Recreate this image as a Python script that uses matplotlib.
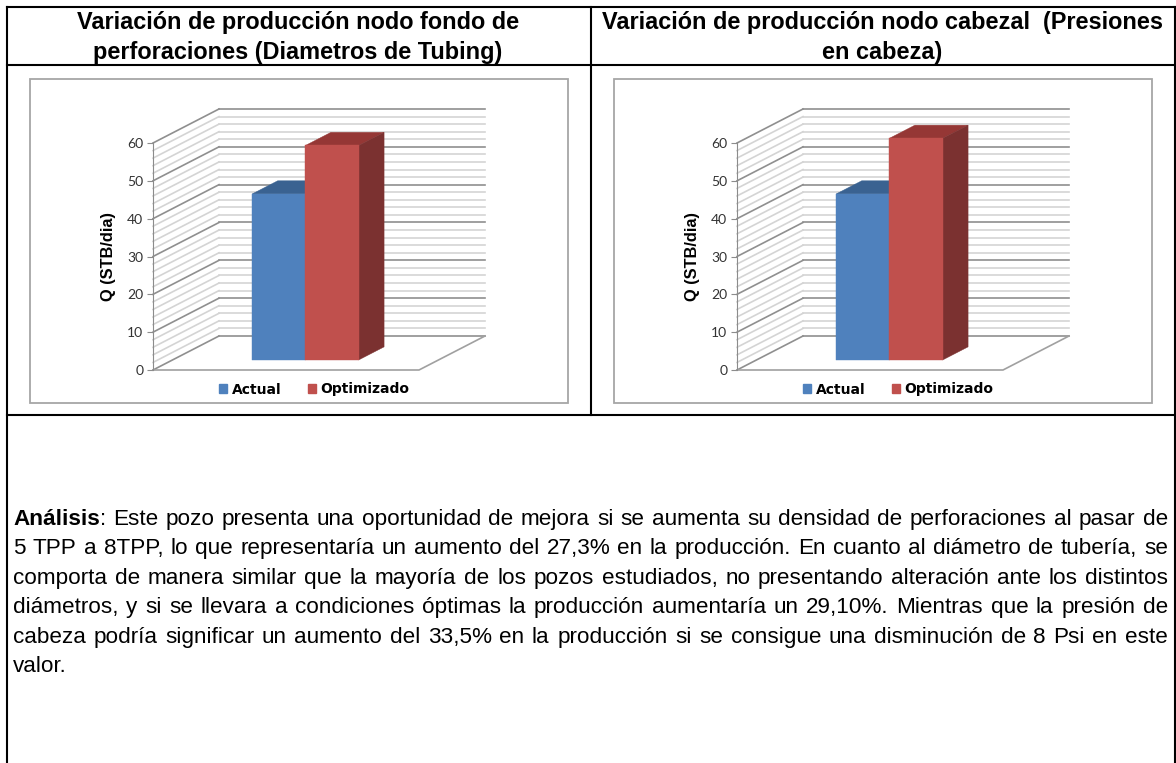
import matplotlib
matplotlib.use('Agg')
import matplotlib.pyplot as plt
from matplotlib.patches import Polygon, Patch, Rectangle

W, H = 1176, 763

series = ['Actual', 'Optimizado']
q_fondo = [43.9, 56.7]
q_cabezal = [43.9, 58.6]
y_ticks = [0, 10, 20, 30, 40, 50, 60]
y_label = 'Q (STB/dia)'
title_left = ['Variación de producción nodo fondo de', 'perforaciones (Diametros de Tubing)']
title_right = ['Variación de producción nodo cabezal  (Presiones', 'en cabeza)']
body_lines = [
    ['Análisis', ': Este pozo presenta una oportunidad de mejora si se aumenta su densidad de perforaciones al pasar de'],
    ['', '5 TPP a 8TPP, lo que representaría un aumento del 27,3% en la producción. En cuanto al diámetro de tubería, se'],
    ['', 'comporta de manera similar que la mayoría de los pozos estudiados, no presentando alteración ante los distintos'],
    ['', 'diámetros, y si se llevara a condiciones óptimas la producción aumentaría  un 29,10%. Mientras que la presión de'],
    ['', 'cabeza podría significar un aumento del 33,5% en la producción si se consigue una disminución de 8 Psi en este'],
    ['', 'valor.'],
]

BLUE = ['#4F81BD', '#3A6291', '#345a85']
RED = ['#C0504D', '#953735', '#7B3130']


def add_chart(fig, box, x0, x_back, values):
    # box is the outer frame in pixels: left, top, right, bottom
    l, t, r, b = box
    bg.add_patch(Rectangle((l, t), r - l, b - t, fc='white', ec='#a6a6a6', lw=1.3))
    ax = fig.add_axes([x0 / W, 1 - 370 / H, 266 / W, 227 / H])
    ax.patch.set_alpha(0)
    ax.set_xlim(0, 1)
    ax.set_ylim(0, 60)
    for s in ['top', 'right', 'bottom']:
        ax.spines[s].set_visible(False)
    ax.spines['left'].set_color('#8c8c8c')
    ax.set_xticks([])
    ax.set_yticks(y_ticks)
    ax.tick_params(axis='y', length=4, color='#8c8c8c', labelsize=10, labelcolor='#333333', pad=3)
    for lb in ax.get_yticklabels():
        lb.set_fontfamily('Lato')
    ax.set_ylabel(y_label, fontsize=11.8, fontweight='bold', family='Liberation Sans', labelpad=8)

    # oblique projection: depth d goes 0 (front) to 1 (back)
    dx, dy = x_back / 266, 34 / (227 / 60)

    def pr(x, y, d):
        return (x + dx * d, y + dy * d)

    for v in range(0, 61, 2):
        major = v % 10 == 0
        col, lw = ('#8f8f8f', 1.2) if major else ('#d4d4d4', 1.2)
        ax.plot([0, dx], [v, v + dy], color=col, lw=lw, clip_on=False, zorder=1)
        ax.plot([dx, 1 + dx], [v + dy, v + dy], color=col, lw=lw, clip_on=False, zorder=1)
    ax.plot([0, 1, 1 + dx], [0, 0, dy], color='#a0a0a0', lw=1.2, clip_on=False, zorder=1)

    # two clustered bars, gap width 150%
    d0, d1 = 0.294, 0.68
    w = 0.2
    xs = [0.3, 0.5]
    for x, v, cols in zip(xs, values, [BLUE, RED]):
        front = [pr(x, 0, d0), pr(x + w, 0, d0), pr(x + w, v, d0), pr(x, v, d0)]
        top = [pr(x, v, d0), pr(x + w, v, d0), pr(x + w, v, d1), pr(x, v, d1)]
        side = [pr(x + w, 0, d0), pr(x + w, 0, d1), pr(x + w, v, d1), pr(x + w, v, d0)]
        for pts, c in [(top, cols[1]), (side, cols[2]), (front, cols[0])]:
            ax.add_patch(Polygon(pts, closed=True, fc=c, ec=c, lw=0.3, clip_on=False, zorder=3))

    handles = [Patch(color=BLUE[0], label=series[0]), Patch(color=RED[0], label=series[1])]
    fig.legend(handles=handles, ncol=2, loc='center',
               bbox_to_anchor=((x0 + 161.5) / W, 1 - 389.5 / H), frameon=False,
               prop={'family': 'DejaVu Sans', 'weight': 'bold', 'size': 10},
               handlelength=0.58, handleheight=0.58, handletextpad=0.35, columnspacing=1.85)
    return ax


def justified(y, parts, left=13, right=1168, justify=True, size=16.2):
    # word by word placement, the way a spreadsheet cell justifies its text
    renderer = fig.canvas.get_renderer()
    words = []
    if parts[0]:
        words.append((parts[0], 'bold'))
    for tk in parts[1].split():
        words.append((tk, 'normal'))
    items = []
    for tx, wt in words:
        t = bg.text(0, y, tx, fontsize=size, fontweight=wt, family='Liberation Sans',
                    va='baseline', ha='left', color='black')
        items.append((t, t.get_window_extent(renderer).width))
    total = sum(i[1] for i in items)
    n = len(items) - 1 - (1 if parts[0] else 0)
    gap = (right - left - total) / n if justify and n > 0 else 4
    x = left
    for k, (t, wd) in enumerate(items):
        t.set_x(x)
        # the colon sticks to the bold word
        glue = parts[0] and k == 0
        x += wd + (0 if glue else gap)


fig = plt.figure(figsize=(W / 100, H / 100), dpi=100, facecolor='white')
bg = fig.add_axes([0, 0, 1, 1])
bg.set_xlim(0, W)
bg.set_ylim(H, 0)
bg.axis('off')

# table rules
for xs, ys in [([7, 1175], [7, 7]), ([7, 1175], [65, 65]), ([7, 1175], [415, 415]),
               ([7, 7], [7, 763]), ([1175, 1175], [7, 763]), ([591, 591], [7, 415])]:
    bg.plot(xs, ys, color='black', lw=1.5, solid_capstyle='projecting')

for cx, lines in [(298, title_left), (882, title_right)]:
    for i, line in enumerate(lines):
        bg.text(cx, 28.5 + i * 30, line, fontsize=16.9, fontweight='bold', family='Liberation Sans',
                ha='center', va='baseline')

add_chart(fig, (30, 79, 568, 403), 153, 66, q_fondo)
add_chart(fig, (614, 79, 1152, 403), 737, 66, q_cabezal)

for i, parts in enumerate(body_lines):
    justified(525 + i * 29.4, parts, justify=i < 5)

fig.savefig('out.png', dpi=100)
